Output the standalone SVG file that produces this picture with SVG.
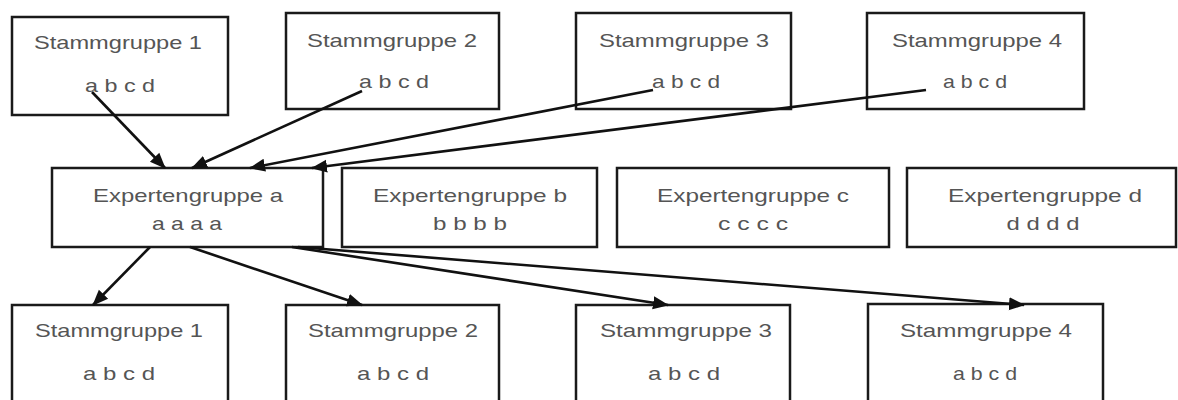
<svg xmlns="http://www.w3.org/2000/svg" width="1178" height="400" viewBox="0 0 1178 400">
<defs>
<style>
.box{fill:#fff;stroke:#1a1a1a;stroke-width:2.5}
.t{font-family:"Liberation Sans",Arial,sans-serif;font-size:19px;fill:#555;text-anchor:middle}
.c{fill:none;stroke:#111;stroke-width:2.6}
</style>
<marker id="ah" markerUnits="userSpaceOnUse" markerWidth="18" markerHeight="16" refX="15" refY="8" orient="auto">
<path d="M0,1.5 L16,8 L0,14.5 Z" fill="#111"/>
</marker>
</defs>
<rect width="1178" height="400" fill="#fff"/>
<g id="s1top"><rect class="box" x="12" y="17" width="216" height="98"/><text class="t" x="118" y="49" textLength="168" lengthAdjust="spacingAndGlyphs">Stammgruppe 1</text><text class="t" x="120" y="92" textLength="70" lengthAdjust="spacingAndGlyphs">a b c d</text></g>
<g id="s2top"><rect class="box" x="286" y="13" width="213" height="96"/><text class="t" x="392" y="47" textLength="170" lengthAdjust="spacingAndGlyphs">Stammgruppe 2</text><text class="t" x="394" y="88" textLength="70" lengthAdjust="spacingAndGlyphs">a b c d</text></g>
<g id="s3top"><rect class="box" x="576" y="13" width="215" height="96"/><text class="t" x="684" y="47" textLength="170" lengthAdjust="spacingAndGlyphs">Stammgruppe 3</text><text class="t" x="686" y="88" textLength="68" lengthAdjust="spacingAndGlyphs">a b c d</text></g>
<g id="s4top"><rect class="box" x="867" y="13" width="217" height="96"/><text class="t" x="977" y="47" textLength="170" lengthAdjust="spacingAndGlyphs">Stammgruppe 4</text><text class="t" x="975" y="88" textLength="64" lengthAdjust="spacingAndGlyphs">a b c d</text></g>
<g id="ea"><rect class="box" x="52" y="168" width="271" height="79"/><text class="t" x="188" y="202" textLength="190" lengthAdjust="spacingAndGlyphs">Expertengruppe a</text><text class="t" x="187" y="230" textLength="70" lengthAdjust="spacingAndGlyphs">a a a a</text></g>
<g id="eb"><rect class="box" x="342" y="168" width="255" height="79"/><text class="t" x="470" y="202" textLength="194" lengthAdjust="spacingAndGlyphs">Expertengruppe b</text><text class="t" x="470" y="230" textLength="74" lengthAdjust="spacingAndGlyphs">b b b b</text></g>
<g id="ec"><rect class="box" x="617" y="168" width="272" height="79"/><text class="t" x="753" y="202" textLength="192" lengthAdjust="spacingAndGlyphs">Expertengruppe c</text><text class="t" x="753" y="230" textLength="70" lengthAdjust="spacingAndGlyphs">c c c c</text></g>
<g id="ed"><rect class="box" x="907" y="168" width="269" height="79"/><text class="t" x="1045" y="202" textLength="194" lengthAdjust="spacingAndGlyphs">Expertengruppe d</text><text class="t" x="1043" y="230" textLength="73" lengthAdjust="spacingAndGlyphs">d d d d</text></g>
<g id="s1bot"><rect class="box" x="12" y="305" width="216" height="110"/><text class="t" x="119" y="337" textLength="168" lengthAdjust="spacingAndGlyphs">Stammgruppe 1</text><text class="t" x="119" y="380" textLength="72" lengthAdjust="spacingAndGlyphs">a b c d</text></g>
<g id="s2bot"><rect class="box" x="286" y="305" width="213" height="110"/><text class="t" x="393" y="337" textLength="170" lengthAdjust="spacingAndGlyphs">Stammgruppe 2</text><text class="t" x="393" y="380" textLength="72" lengthAdjust="spacingAndGlyphs">a b c d</text></g>
<g id="s3bot"><rect class="box" x="576" y="305" width="214" height="110"/><text class="t" x="686" y="337" textLength="172" lengthAdjust="spacingAndGlyphs">Stammgruppe 3</text><text class="t" x="684" y="380" textLength="72" lengthAdjust="spacingAndGlyphs">a b c d</text></g>
<g id="s4bot"><rect class="box" x="868" y="304" width="235" height="110"/><text class="t" x="986" y="337" textLength="172" lengthAdjust="spacingAndGlyphs">Stammgruppe 4</text><text class="t" x="985" y="380" textLength="64" lengthAdjust="spacingAndGlyphs">a b c d</text></g>
<g id="connectors">
<line class="c" x1="92" y1="92" x2="165" y2="168" marker-end="url(#ah)"/>
<line class="c" x1="362" y1="91" x2="192" y2="168" marker-end="url(#ah)"/>
<line class="c" x1="653" y1="90" x2="250" y2="168" marker-end="url(#ah)"/>
<line class="c" x1="926" y1="90" x2="312" y2="168" marker-end="url(#ah)"/>
<line class="c" x1="150" y1="247" x2="93" y2="305" marker-end="url(#ah)"/>
<line class="c" x1="190" y1="247" x2="362" y2="305" marker-end="url(#ah)"/>
<line class="c" x1="292" y1="247" x2="668" y2="305" marker-end="url(#ah)"/>
<line class="c" x1="298" y1="247" x2="1024" y2="305" marker-end="url(#ah)"/>
</g>
</svg>
